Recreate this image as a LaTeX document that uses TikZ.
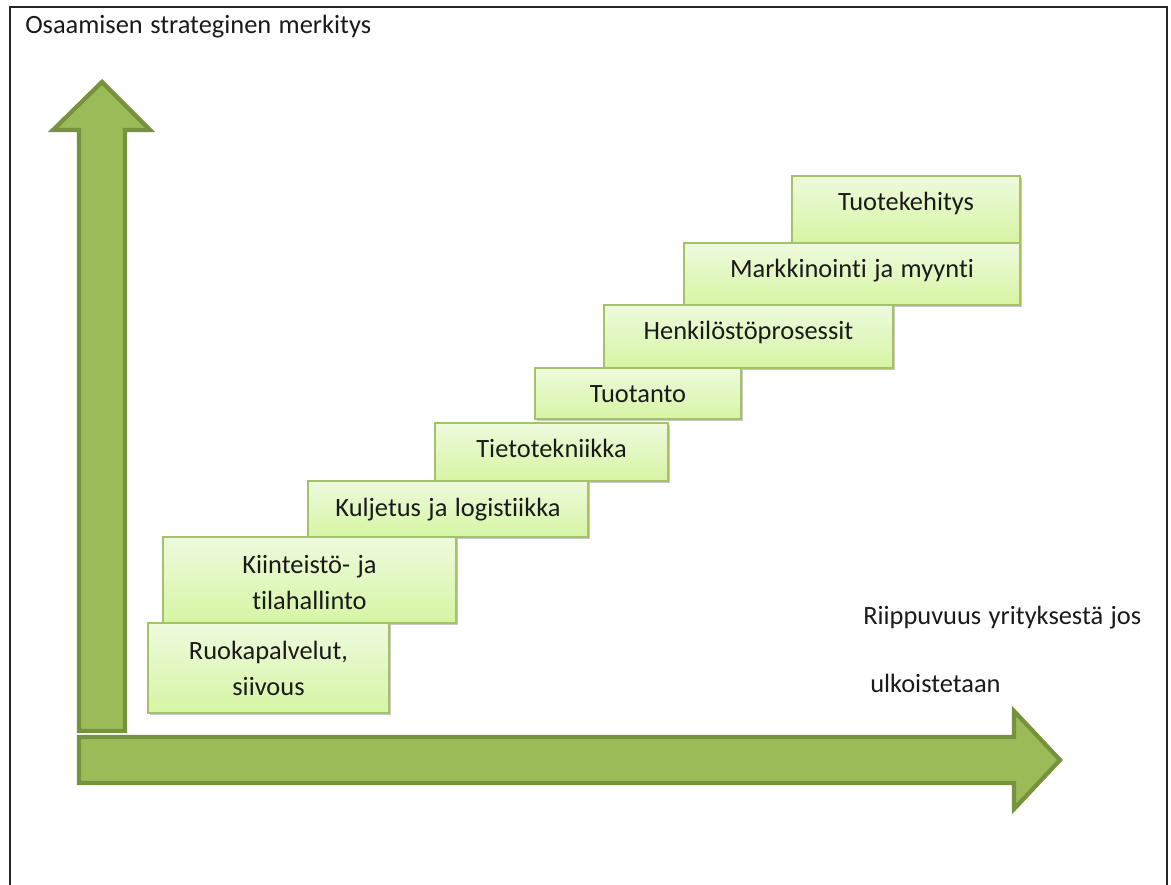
\documentclass[tikz,border=0pt]{standalone}
\usepackage{fontspec}
\setmainfont{Carlito}[Ligatures={NoCommon}, WordSpace={1.25}]
\usetikzlibrary{shadows,fit}
\definecolor{arrowfill}{HTML}{9BBB59}
\definecolor{arrowline}{HTML}{76923C}
\definecolor{boxtop}{HTML}{EEFADD}
\definecolor{boxbot}{HTML}{D6F5A4}
\definecolor{boxline}{HTML}{A4C266}
\definecolor{txt}{HTML}{1A1A1A}
\begin{document}
\begin{tikzpicture}[x=0.75pt,y=-0.75pt,
  bigarrow/.style={fill=arrowfill, draw=arrowline, line width=3.2pt, line join=miter},
  stepbox/.style={rectangle, inner sep=0pt, draw=boxline, line width=1.2pt,
    top color=boxtop, bottom color=boxbot,
    drop shadow={shadow xshift=1.2pt, shadow yshift=-1.8pt, opacity=0.35, fill=black!60}},
  lbl/.style={font=\fontsize{19.8}{22}\selectfont, text=txt, inner sep=0pt, anchor=base},
  frame/.style={draw=black!85, line width=1.1pt}]
\useasboundingbox (0,0) rectangle (1171,885);
\fill[white] (0,0) rectangle (1171,885);
\draw[frame] (10,892) -- (10,7) -- (1167,7) -- (1167,892);

% axis label texts
\node[lbl, anchor=base west] (ytitle) at (25,33) {Osaamisen strateginen merkitys};
\node[lbl, anchor=base west] (xtitle1) at (863,624) {Riippuvuus yrityksestä jos};
\node[lbl, anchor=base west] (xtitle2) at (870,692) {ulkoistetaan};

% arrows
\draw[bigarrow] (79,737) -- (1014,737) -- (1014,711) -- (1060,760) -- (1014,809) -- (1014,783) -- (79,783) -- cycle;
\draw[bigarrow] (79,731) -- (79,130) -- (53,130) -- (102,82) -- (150,130) -- (125,130) -- (125,731) -- cycle;

% step boxes (top to bottom)
\node[stepbox, fit={(792,176) (1020,243)}] (b8) {};
\node[stepbox, fit={(684,243) (1020,305)}] (b7) {};
\node[stepbox, fit={(604,305) (893,368)}] (b6) {};
\node[stepbox, fit={(535,368) (741,419)}] (b5) {};
\node[stepbox, fit={(435,423) (668,481)}] (b4) {};
\node[stepbox, fit={(308,481) (588,537)}] (b3) {};
\node[stepbox, fit={(163,537) (456,623)}] (b2) {};
\node[stepbox, fit={(148,623) (389,713)}] (b1) {};

\node[lbl] (t8) at (906,210) {Tuotekehitys};
\node[lbl] (t7) at (852,277) {Markkinointi ja myynti};
\node[lbl] (t6) at (748.5,339) {Henkilöstöprosessit};
\node[lbl] (t5) at (638,402) {Tuotanto};
\node[lbl] (t4) at (551.5,457) {Tietotekniikka};
\node[lbl] (t3) at (448,516) {Kuljetus ja logistiikka};
\node[lbl] (t2a) at (309.5,573) {Kiinteistö- ja};
\node[lbl] (t2b) at (309.5,609) {tilahallinto};
\node[lbl] (t1a) at (268.5,659) {Ruokapalvelut,};
\node[lbl] (t1b) at (268.5,695) {siivous};
\end{tikzpicture}
\end{document}
